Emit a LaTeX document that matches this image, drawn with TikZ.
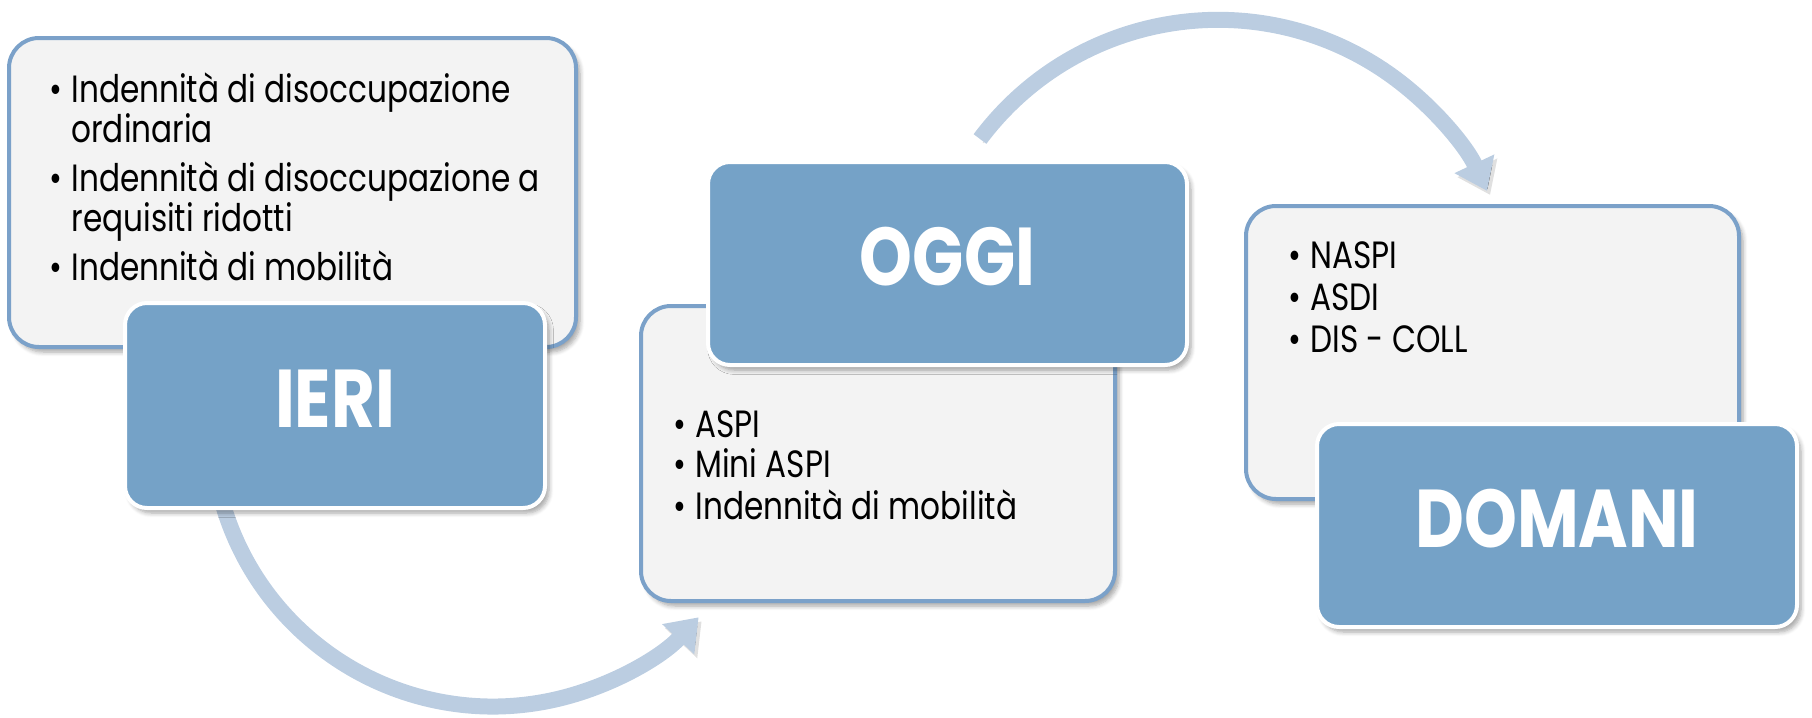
\documentclass[tikz,border=0pt]{standalone}
\usepackage{fontspec}
\setmainfont{Poppins}[FakeStretch=0.82]
\usetikzlibrary{arrows.meta,shadows.blur}
\definecolor{boxblue}{RGB}{117,162,199}
\definecolor{paneBg}{RGB}{243,243,243}
\definecolor{paneLine}{RGB}{123,161,201}
\definecolor{flowc}{RGB}{187,205,225}
\tikzset{
  softshadow/.style={blur shadow={shadow xshift=2pt, shadow yshift=-2.5pt, shadow blur steps=6, shadow opacity=35}},
  pane/.style={draw=paneLine, line width=2pt, fill=paneBg, rounded corners=15pt, inner sep=0pt, softshadow},
  head/.style={draw=white, line width=2pt, fill=boxblue, rounded corners=11pt, inner sep=0pt, text=white,
    text depth=7pt, font=\fontsize{41pt}{44pt}\selectfont\bfseries, softshadow},
  list/.style={anchor=base west, inner sep=0pt},
  flow/.style={draw=flowc, line width=8pt, -{Triangle[width=21pt,length=15pt]},
    preaction={draw=black, draw opacity=.12, transform canvas={xshift=1.5pt,yshift=-2pt}}},
}
\begin{document}
\begin{tikzpicture}[x=0.5pt,y=-0.5pt]
\useasboundingbox (0,0) rectangle (1812,718);
% IERI
\node[pane, minimum width=283.5pt, minimum height=154.5pt] (t1) at (292.5,192.5) {};
\node[list] (l1) at (49,102) {\fontsize{19pt}{19pt}\selectfont
\begin{tabular}[t]{@{}p{11pt}@{}l@{}}
•&Indennità di disoccupazione\\
&ordinaria\\[4pt]
•&Indennità di disoccupazione a\\
&requisiti ridotti\\[4pt]
•&Indennità di mobilità
\end{tabular}};
\coordinate (a1s) at (219.8,493);
\draw[flow] (a1s) arc[start angle=166, end angle=43.1, radius=281.6];
\node[head, minimum width=210pt, minimum height=102.5pt] (ieri) at (335,405.5) {IERI};
% OGGI
\node[pane, minimum width=237pt, minimum height=147.5pt] (t2) at (878,453.5) {};
\node[list] (l2) at (673,437) {\fontsize{19pt}{20pt}\selectfont
\begin{tabular}[t]{@{}p{11pt}@{}l@{}}
•&ASPI\\
•&Mini ASPI\\
•&Indennità di mobilità
\end{tabular}};
\node[head, minimum width=239.5pt, minimum height=101.5pt] (oggi) at (947.5,263.5) {OGGI};
\coordinate (a2s) at (980,139);
\draw[flow] (a2s) arc[start angle=-143.2, end angle=-25.1, radius=297.2];
% DOMANI
\node[pane, minimum width=246.5pt, minimum height=146.5pt] (t3) at (1492.5,352.5) {};
\node[list] (l3) at (1288,268) {\fontsize{19pt}{21pt}\selectfont
\begin{tabular}[t]{@{}p{11pt}@{}l@{}}
•&NASPI\\
•&ASDI\\
•&DIS - COLL
\end{tabular}};
\node[head, minimum width=240pt, minimum height=101.5pt] (domani) at (1557,525.5) {DOMANI};
\end{tikzpicture}
\end{document}
